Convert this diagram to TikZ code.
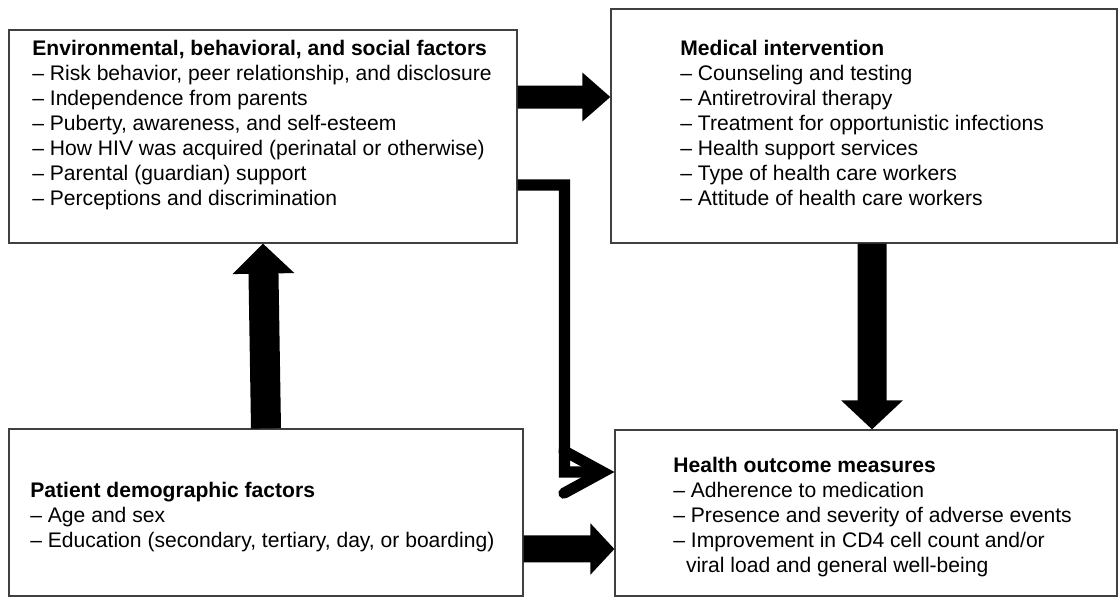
\documentclass[tikz,border=0pt]{standalone}
\usepackage{fontspec}
\setmainfont{Liberation Sans}
\usepackage{tikz}
\usetikzlibrary{arrows.meta}
\tikzset{
    box/.style={rectangle, draw=black!75, line width=0.7pt, inner sep=0pt}
}
\tikzset{
    boxtext/.style={anchor=north west, inner sep=0pt, align=left,
    	font=\fontsize{12}{14.2}\selectfont}
}
\tikzset{
    bigarrow/.style n args={3}{line width=#1, -{Triangle[length=#2, width=#3]}},
    elbowarrow/.style={line width=6.3pt, line join=miter,
    	-{Straight Barb[length=0.78cm, width=0.85cm, line cap=round]}}
}

\begin{document}
\begin{tikzpicture}[x=0.02cm, y=-0.02cm]
  \useasboundingbox (0,0) rectangle (1120,598);

  \node (envbox) [box, minimum width=10.16cm, minimum height=4.26cm] at (263,136.5) {};
  \node (medbox) [box, minimum width=10.12cm, minimum height=4.68cm] at (864,126) {};
  \node (patbox) [box, minimum width=10.28cm, minimum height=3.34cm] at (266,512.5) {};
  \node (outbox) [box, minimum width=10.04cm, minimum height=3.32cm] at (866,513) {};

  \node (envtext) [boxtext] at (32,40) {\textbf{Environmental, behavioral, and social factors}\\
    \textendash{} Risk behavior, peer relationship, and disclosure\\
    \textendash{} Independence from parents\\
    \textendash{} Puberty, awareness, and self-esteem\\
    \textendash{} How HIV was acquired (perinatal or otherwise)\\
    \textendash{} Parental (guardian) support\\
    \textendash{} Perceptions and discrimination};
  \node (medtext) [boxtext] at (680,40) {\textbf{Medical intervention}\\
    \textendash{} Counseling and testing\\
    \textendash{} Antiretroviral therapy\\
    \textendash{} Treatment for opportunistic infections\\
    \textendash{} Health support services\\
    \textendash{} Type of health care workers\\
    \textendash{} Attitude of health care workers};
  \node (pattext) [boxtext] at (30,482) {\textbf{Patient demographic factors}\\
    \textendash{} Age and sex\\
    \textendash{} Education (secondary, tertiary, day, or boarding)};
  \node (outtext) [boxtext] at (673,457) {\textbf{Health outcome measures}\\
    \textendash{} Adherence to medication\\
    \textendash{} Presence and severity of adverse events\\
    \textendash{} Improvement in CD4 cell count and/or\\
    \hspace*{0.6em}viral load and general well-being};

  \coordinate (elbowturn) at (564.5,472);

  \draw [bigarrow={0.6cm}{0.6cm}{1.2cm}] (patbox.north) -- (envbox.south);
  \draw [bigarrow={0.58cm}{0.58cm}{1.2cm}] ([xshift=0.16cm]medbox.south) -- ([xshift=0.12cm]outbox.north);
  \draw [bigarrow={0.46cm}{0.56cm}{0.94cm}] ([yshift=0.79cm]envbox.east) -- ([yshift=0.58cm]medbox.west);
  \draw [bigarrow={0.54cm}{0.48cm}{1.0cm}] ([yshift=-0.73cm]patbox.east) -- ([yshift=-0.72cm]outbox.west);
  \draw [elbowarrow] ([yshift=-0.97cm]envbox.east) -| (elbowturn) -- ([yshift=0.82cm]outbox.west);
\end{tikzpicture}
\end{document}
